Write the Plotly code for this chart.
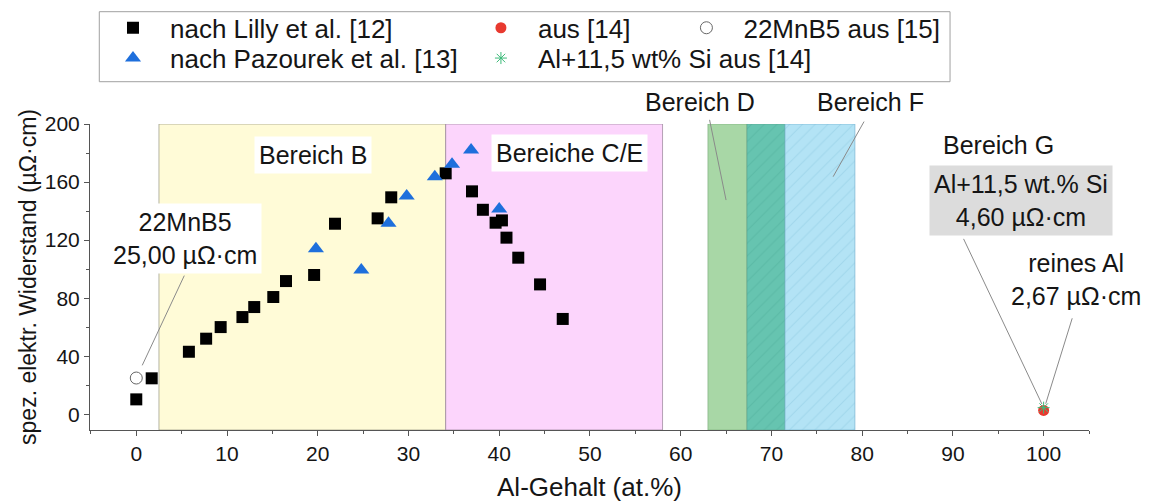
import plotly.graph_objects as go

FONT = "Liberation Sans, Arial, sans-serif"
TXT = "#151515"

# ---------------- data ----------------
lilly_x = [0.0, 1.7, 5.8, 7.7, 9.3, 11.7, 13.0, 15.1, 16.5, 19.6, 21.9, 26.6, 28.1,
           34.1, 37.0, 38.2, 39.6, 40.3, 40.8, 42.1, 44.5, 47.0]
lilly_y = [10.3, 24.8, 43.1, 52.1, 60.1, 67.0, 73.9, 80.8, 91.8, 96.0, 131.3, 135.0, 149.5,
           166.0, 153.6, 140.9, 132.0, 133.6, 121.7, 107.9, 89.5, 65.7]

pazourek_x = [19.8, 24.8, 27.8, 29.8, 32.9, 34.8, 36.9, 40.0]
pazourek_y = [114.1, 99.4, 131.6, 150.4, 163.7, 172.2, 182.1, 141.4]

al_x = [100.0]
al_y = [2.67]

alsi_x = [100.0]
alsi_y = [4.60]

mnb5_x = [0.0]
mnb5_y = [25.0]

# shaded composition ranges (at.% Al)
region_B = [2.5, 34.1]
region_CE = [34.1, 58.0]
region_D = [63.0, 71.5]
region_F = [67.3, 79.2]
region_top = 200

X_RANGE = [-5.1, 105]
Y_RANGE = [-10.8, 200]

x_ticks = [0, 10, 20, 30, 40, 50, 60, 70, 80, 90, 100]
y_ticks = [0, 40, 80, 120, 160, 200]

fig = go.Figure()


def band(x0, x1, fill, line, pattern=None):
    ys0 = Y_RANGE[0]
    kw = dict(
        x=[x0, x1, x1, x0, x0],
        y=[ys0, ys0, region_top, region_top, ys0],
        mode="lines",
        fill="toself",
        fillcolor=fill,
        line=dict(color=line, width=1),
        hoverinfo="skip",
        showlegend=False,
    )
    if pattern is not None:
        kw["fillpattern"] = pattern
    fig.add_trace(go.Scatter(**kw))


band(region_B[0], region_B[1], "#FFFBD7", "rgba(150,150,130,0.7)")
band(region_CE[0], region_CE[1], "#FCD5FC", "rgba(150,130,150,0.7)")
ov0 = max(region_D[0], region_F[0])
ov1 = min(region_D[1], region_F[1])
band(region_D[0], ov0, "#A8D7A6", "rgba(120,170,120,0.6)")
band(ov0, ov1, "#66C4B0", "rgba(90,160,140,0.6)",
     dict(shape="/", bgcolor="#66C4B0", fgcolor="#4FAF9C", size=9, solidity=0.12))
band(ov1, region_F[1], "#B3E3F5", "rgba(120,180,210,0.7)",
     dict(shape="/", bgcolor="#B3E3F5", fgcolor="#8FCBE3", size=9, solidity=0.12))

# ---------------- markers ----------------
fig.add_trace(go.Scatter(x=lilly_x, y=lilly_y, mode="markers", name="nach Lilly et al. [12]",
                         marker=dict(symbol="square", size=12, color="#000000"), legend="legend"))
fig.add_trace(go.Scatter(x=pazourek_x, y=pazourek_y, mode="markers", name="nach Pazourek et al. [13]",
                         marker=dict(symbol="triangle-up", size=14, color="#1E6FDC"), legend="legend2"))
fig.add_trace(go.Scatter(x=al_x, y=al_y, mode="markers", name="aus [14]",
                         marker=dict(symbol="circle", size=11, color="#E8392F"), legend="legend3"))
fig.add_trace(go.Scatter(x=alsi_x, y=alsi_y, mode="markers", name="Al+11,5 wt% Si aus [14]",
                         marker=dict(symbol="asterisk-open", size=10, color="#3DBB7A",
                                     line=dict(color="#3DBB7A", width=1)), legend="legend4"))
fig.add_trace(go.Scatter(x=mnb5_x, y=mnb5_y, mode="markers", name="22MnB5 aus [15]",
                         marker=dict(symbol="circle-open", size=12, color="#666666",
                                     line=dict(color="#666666", width=1)), legend="legend5"))

# ---------------- annotations ----------------
ann = []


def label(x, y, text, bg=None, size=25, yref="y"):
    d = dict(x=x, y=y, xref="x", yref=yref, text=text, showarrow=False,
             font=dict(family=FONT, size=size, color=TXT), align="center",
             xanchor="center", yanchor="middle", borderpad=4)
    if bg:
        d["bgcolor"] = bg
    ann.append(d)


def leader(xt, yt, xh, yh, standoff=0):
    ann.append(dict(x=xh, y=yh, ax=xt, ay=yt, xref="x", yref="y", axref="x", ayref="y",
                    text="", showarrow=True, arrowhead=0, arrowwidth=1,
                    arrowcolor="#8a8a8a", standoff=standoff))


label(19.5, 178.6, "Bereich B", bg="#FFFFFF")
label(47.7, 180.2, "Bereiche C/E", bg="#FFFFFF")
label(5.37, 121.2, "22MnB5<br>25,00 µΩ·cm", bg="#FFFFFF")
label(62.1, 1.073, "Bereich D", yref="paper")
label(80.9, 1.073, "Bereich F", yref="paper")
label(95.0, 185.5, "Bereich G")
label(97.46, 147.1, "Al+11,5 wt.% Si<br>4,60 µΩ·cm", bg="#DCDCDC")
label(103.6, 93.2, "reines Al<br>2,67 µΩ·cm")

leader(5.37, 96.6, mnb5_x[0], mnb5_y[0], standoff=14)
leader(63.15, 203.9, 65.0, 147.6)
leader(80.3, 202.7, 76.8, 163.7)
leader(91.1, 121.9, alsi_x[0], alsi_y[0], standoff=4)
leader(103.2, 67.2, al_x[0], al_y[0], standoff=7)

# ---------------- layout ----------------
axis_common = dict(
    showgrid=False, zeroline=False, showline=True, linecolor="#555555", linewidth=1,
    ticks="outside", ticklen=5, tickwidth=1, tickcolor="#555555",
    tickfont=dict(family=FONT, size=21, color=TXT), automargin=False,
)

leg_common = dict(
    orientation="v", xanchor="left", yanchor="top", bgcolor="rgba(0,0,0,0)",
    borderwidth=0, font=dict(family=FONT, size=26, color=TXT), tracegroupgap=0,
    itemwidth=64,
)

ROW1 = 1.391
ROW2 = 1.292

fig.update_layout(
    width=1151, height=502,
    margin=dict(l=90, r=62, t=124, b=72, autoexpand=False),
    paper_bgcolor="white", plot_bgcolor="white",
    font=dict(family=FONT, color=TXT),
    xaxis=dict(range=X_RANGE, tickvals=x_ticks,
               minor=dict(dtick=5, tick0=0, ticks="outside", ticklen=3, tickcolor="#555555"),
               title=dict(text="Al-Gehalt (at.%)", font=dict(family=FONT, size=26, color=TXT),
                          standoff=14),
               **axis_common),
    yaxis=dict(range=Y_RANGE, tickvals=y_ticks,
               minor=dict(dtick=20, tick0=0, ticks="outside", ticklen=3, tickcolor="#555555"),
               title=dict(text="spez. elektr. Widerstand (µΩ·cm)",
                          font=dict(family=FONT, size=23, color=TXT), standoff=1),
               **axis_common),
    legend=dict(x=0.006, y=ROW1, **leg_common),
    legend2=dict(x=0.006, y=ROW2, **leg_common),
    legend3=dict(x=0.3743, y=ROW1, **leg_common),
    legend4=dict(x=0.3743, y=ROW2, **leg_common),
    legend5=dict(x=0.580, y=ROW1, **leg_common),
    annotations=ann,
    shapes=[dict(type="rect", xref="paper", yref="paper", x0=0.0093, x1=0.8609,
                 y0=1.1382, y1=1.367, line=dict(color="#A0A0A0", width=1),
                 fillcolor="rgba(0,0,0,0)", layer="above")],
    showlegend=True,
)

fig.write_html("out.html")
